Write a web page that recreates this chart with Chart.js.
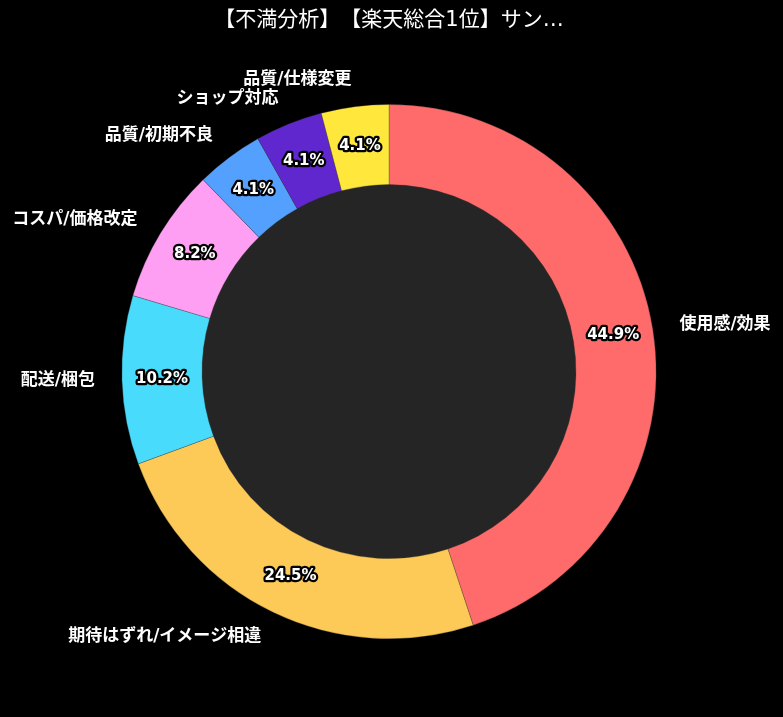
<!DOCTYPE html>
<html>
<head>
  <meta charset="utf-8">
  <title>不満分析</title>
  <script src="https://cdn.jsdelivr.net/npm/chart.js"></script>
  <style>
    html, body { margin: 0; padding: 0; background: #000; }
    #wrap { width: 783px; height: 717px; }
    canvas { text-spacing-trim: space-all; }
  </style>
</head>
<body>
  <div id="wrap"><canvas id="pie" width="783" height="717"></canvas></div>
  <script>
    // categories and counts (percent = count / total)
    const categories = [
      "使用感/効果",
      "期待はずれ/イメージ相違",
      "配送/梱包",
      "コスパ/価格改定",
      "品質/初期不良",
      "ショップ対応",
      "品質/仕様変更"
    ];
    const counts = [22, 12, 5, 4, 2, 2, 2];
    const colors = ["#ff6b6b", "#feca57", "#48dbfb", "#ff9ff3", "#54a0ff", "#5f27cd", "#ffe83b"];
    const titleText = "【不満分析】【楽天総合1位】サン…";

    const total = counts.reduce((a, b) => a + b, 0);
    const latinFont = "'DejaVu Sans', 'Noto Sans CJK JP', sans-serif";

    // fill the hole + draw outside names and inside percentages
    const labelPlugin = {
      id: "labelPlugin",
      beforeDatasetsDraw(chart) {
        const arc = chart.getDatasetMeta(0).data[0];
        if (!arc) return;
        const ctx = chart.ctx;
        ctx.save();
        ctx.fillStyle = "#252525";
        ctx.beginPath();
        ctx.arc(arc.x, arc.y, arc.innerRadius, 0, Math.PI * 2);
        ctx.fill();
        ctx.restore();
      },
      afterDatasetsDraw(chart) {
        const ctx = chart.ctx;
        const meta = chart.getDatasetMeta(0);
        ctx.save();
        meta.data.forEach((el, i) => {
          const mid = (el.startAngle + el.endAngle) / 2;
          const cos = Math.cos(mid), sin = Math.sin(mid);

          // percentage inside ring
          const rIn = (el.innerRadius + el.outerRadius) / 2;
          const px = el.x + cos * rIn, py = el.y + sin * rIn;
          const pct = (counts[i] / total * 100).toFixed(1) + "%";
          ctx.font = "bold 15px " + latinFont;
          ctx.textAlign = "center";
          ctx.textBaseline = "middle";
          ctx.lineJoin = "round";
          ctx.lineWidth = 4.5;
          ctx.strokeStyle = "#000";
          ctx.strokeText(pct, px, py);
          ctx.fillStyle = "#fff";
          ctx.fillText(pct, px, py);

          // category name outside
          const rOut = el.outerRadius + 27;
          const lx = el.x + cos * rOut, ly = el.y + sin * rOut;
          ctx.font = "bold 17px " + latinFont;
          ctx.textAlign = cos >= 0 ? "left" : "right";
          ctx.fillStyle = "#fff";
          ctx.fillText(categories[i], lx, ly);
        });
        ctx.restore();
      }
    };

    new Chart(document.getElementById("pie"), {
      type: "doughnut",
      data: {
        labels: categories,
        datasets: [{
          data: counts,
          backgroundColor: colors,
          borderColor: "rgba(60,60,60,0.6)",
          borderWidth: 0.5
        }]
      },
      options: {
        responsive: false,
        animation: false,
        cutout: "70%",
        layout: { padding: { top: 0, bottom: 78, left: 121, right: 126 } },
        plugins: {
          legend: { display: false },
          tooltip: { enabled: false },
          title: {
            display: true,
            text: titleText,
            color: "#fff",
            font: { size: 21, weight: "normal", family: "'DejaVu Sans', 'Noto Sans CJK JP', sans-serif" },
            padding: { top: 8, bottom: 71 }
          }
        }
      },
      plugins: [labelPlugin]
    });
  </script>
</body>
</html>
